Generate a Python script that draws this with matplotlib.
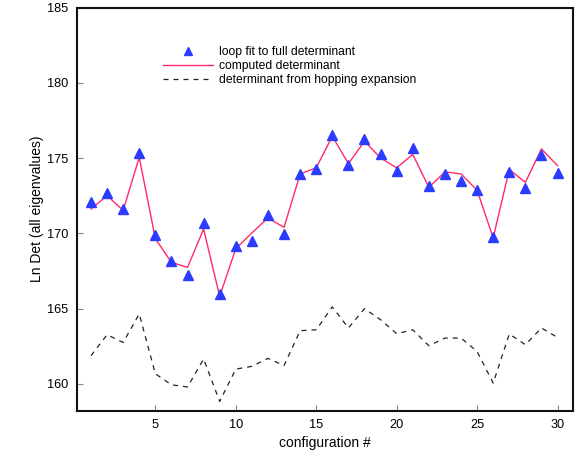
import matplotlib
matplotlib.use("Agg")
import matplotlib.pyplot as plt

plt.rcParams['font.family'] = ['Liberation Sans', 'DejaVu Sans']

config = list(range(1, 31))
loop_fit = [172.06, 172.69, 171.62, 175.34, 169.87, 168.17, 167.21, 170.69, 165.98, 169.14,
            169.52, 171.25, 169.96, 173.95, 174.30, 176.52, 174.52, 176.30, 175.25, 174.12,
            175.70, 173.15, 173.95, 173.48, 172.89, 169.78, 174.10, 173.04, 175.19, 173.99]
computed = [171.62, 172.51, 171.53, 175.05, 169.65, 168.08, 167.74, 170.29, 165.82, 168.99,
            170.03, 171.03, 170.40, 173.95, 174.35, 176.45, 174.63, 176.12, 175.01, 174.35,
            175.25, 173.06, 174.08, 173.95, 172.86, 169.70, 174.24, 173.39, 175.61, 174.50]
hopping = [161.88, 163.27, 162.76, 164.65, 160.68, 159.95, 159.80, 161.66, 158.84, 160.99,
           161.17, 161.70, 161.23, 163.54, 163.60, 165.12, 163.72, 165.00, 164.27, 163.34,
           163.60, 162.54, 163.05, 163.05, 162.16, 160.06, 163.32, 162.61, 163.72, 163.09]

fig = plt.figure(figsize=(5.81, 4.57), dpi=100)
ax = fig.add_axes([76.5/581, 1-410.5/457, (573-76.5)/581, (410.5-7.5)/457])

ax.plot(config, loop_fit, linestyle='none', marker='^', markersize=6.8,
        color='#2b3cff', label='loop fit to full determinant', zorder=3)
ax.plot(config, computed, color='#ff2a6a', lw=1.0, label='computed determinant', zorder=2)
ax.plot(config, hopping, color='#222222', lw=0.9, dashes=(4, 4),
        label='determinant from hopping expansion', zorder=2)

ax.set_xlim(0.1, 30.96)
ax.set_ylim(158.24, 185)
ax.set_xticks([5, 10, 15, 20, 25, 30])
ax.set_yticks([160, 165, 170, 175, 180, 185])
ax.tick_params(direction='in', length=4, width=0.8, color='#888888', labelsize=9.2,
               pad=6, top=False, right=False)
for s in ax.spines.values():
    s.set_linewidth(1.5)
    s.set_color('#111111')

ax.set_xlabel('configuration #', fontsize=10, labelpad=4)
ax.set_ylabel('Ln Det (all eigenvalues)', fontsize=10, labelpad=2)

leg = ax.legend(loc='upper left', bbox_to_anchor=(0.165, 0.917), frameon=False,
                fontsize=8.7, handlelength=4.15, handletextpad=0.5, labelspacing=0.18,
                borderaxespad=0, markerscale=0.85)

fig.savefig('out.png', dpi=100)
